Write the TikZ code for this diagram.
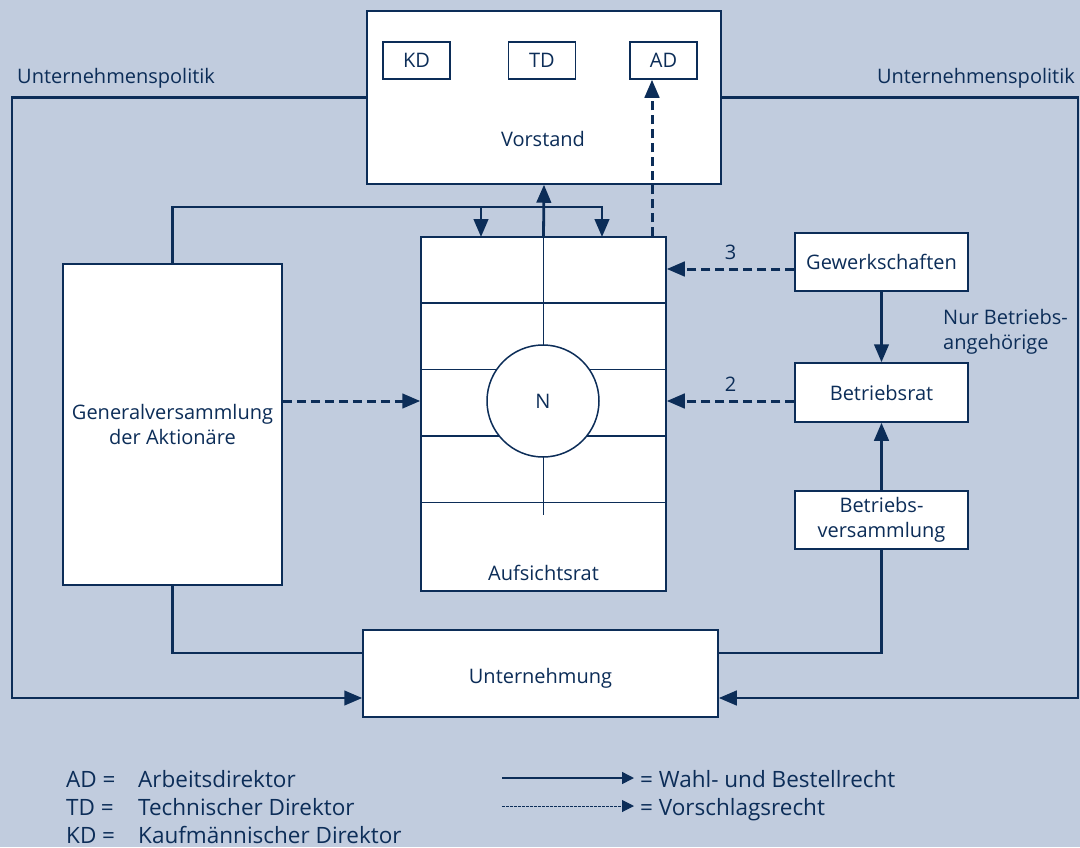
\documentclass[tikz,border=0pt]{standalone}
\usepackage{fontspec}
\setmainfont{Open Sans}
\usetikzlibrary{arrows.meta,calc}
\definecolor{bg}{RGB}{193,204,222}
\definecolor{nv}{RGB}{12,45,88}
\begin{document}
\begin{tikzpicture}[x=1pt,y=-1pt,
  font=\fontsize{20}{25}\selectfont, text=nv,
  box/.style={draw=nv,fill=white,line width=1.5pt,inner sep=0pt,align=center},
  wl/.style={draw=nv,line width=2.8pt},
  dl/.style={draw=nv,line width=3pt,dash pattern=on 9pt off 5pt},
  tip/.style={-{Triangle[length=18pt,width=14.5pt]}},
  stip/.style={-{Triangle[length=12pt,width=12pt]}},
  thinl/.style={draw=nv,line width=1.5pt},
  lab/.style={inner sep=0pt},
  leg/.style={inner sep=0pt,font=\fontsize{22.5}{25}\selectfont}]
\fill[bg] (0,0) rectangle (1080,847);
\useasboundingbox (0,0) rectangle (1080,847);

% boxes
\node[box,minimum width=354pt,minimum height=173pt] (vor) at (544,97.5) {};
\node[box,minimum width=67pt,minimum height=37pt] (kd) at (416.5,60.5) {KD};
\node[box,minimum width=67pt,minimum height=37pt] (td) at (542,60.5) {TD};
\node[box,minimum width=67pt,minimum height=37pt] (ad) at (663.5,60.5) {AD};
\node[lab,anchor=base] (vorl) at (543,146) {Vorstand};

\node[box,minimum width=245pt,minimum height=354pt] (auf) at (543.5,414) {};
\node[box,minimum width=219pt,minimum height=321pt] (gv) at (172.5,424.5) {Generalversammlung\\der Aktionäre};
\node[box,minimum width=355pt,minimum height=87pt] (unt) at (540.5,673.5) {};
\node[lab,anchor=base] (untl) at (540.5,683) {Unternehmung};
\node[box,minimum width=173pt,minimum height=58pt] (gew) at (881.5,262) {Gewerkschaften};
\node[box,minimum width=173pt,minimum height=59pt] (br) at (881.5,392.5) {Betriebsrat};
\node[box,minimum width=173pt,minimum height=58pt] (bv) at (881.5,520) {Betriebs-\\versammlung};

% Aufsichtsrat grid
\coordinate (cc) at (543,401);
\foreach \yy in {303,369.5,436,502.5}
  \draw[thinl] (auf.west |- 0,\yy) -- (auf.east |- 0,\yy);
\draw[thinl] (auf.north) -- ($(auf.north)+(0,279)$);
\node[box,circle,minimum size=112pt] (n) at (cc) {N};
\node[lab,anchor=base] (aufl) at (543.5,580) {Aufsichtsrat};

% labels
\node[lab,anchor=base west] (upl) at (17,83) {Unternehmenspolitik};
\node[lab,anchor=base east] (upr) at (1075,83) {Unternehmenspolitik};
\node[lab,anchor=base west,align=left] (nur) at (943,349) {Nur Betriebs-\\angehörige};

% connectors
\coordinate (cl) at (12,0);
\coordinate (cr) at (1078,0);
\coordinate (top) at (0,207);
\coordinate (a1) at (481,237);
\coordinate (a2) at (602,237);
\coordinate (adx) at ($(ad.south)+(-11.5,0)$);
\coordinate (gwx) at ($(gew.west)+(0,7)$);
\coordinate (brx) at ($(br.west)+(0,8.5)$);
\coordinate (ul) at ($(unt.west)+(0,24.5)$);
\coordinate (ur) at ($(unt.east)+(0,24.5)$);
\coordinate (ul2) at ($(unt.west)+(0,-20.5)$);
\coordinate (ur2) at ($(unt.east)+(0,-20.5)$);
\draw[wl,tip] (vor.west) -- (vor.west -| cl) |- (ul);
\draw[wl,tip] (vor.east) -- (vor.east -| cr) |- (ur);
\draw[wl,tip] (gv.north) |- (a2 |- top) -- (a2);
\draw[wl,tip] (a1 |- top) -- (a1);
\draw[wl,tip] (auf.north) -- (vor.south);
\draw[dl,tip] (adx |- auf.north) -- (adx);
\draw[dl,tip] (gwx) -- node[lab,above=8pt] (l3) {3} (gwx -| auf.east);
\draw[dl,tip] (brx) -- node[lab,above=8pt] (l2) {2} (brx -| auf.east);
\draw[dl,tip] (gv.east |- cc) -- (auf.west |- cc);
\draw[wl,tip] (gew.south) -- (br.north);
\draw[wl,tip] (bv.north) -- (br.south);
\draw[wl] (bv.south) |- (ur2);
\draw[wl] (gv.south) |- (ul2);

% legend
\node[leg,anchor=base west] (lad) at (66,787) {AD =};
\node[leg,anchor=base west] (ltd) at (66,815) {TD =};
\node[leg,anchor=base west] (lkd) at (66,843) {KD =};
\node[leg,anchor=base west] (lad2) at (138,787) {Arbeitsdirektor};
\node[leg,anchor=base west] (ltd2) at (138,815) {Technischer Direktor};
\node[leg,anchor=base west] (lkd2) at (138,843) {Kaufmännischer Direktor};
\node[leg,anchor=base west] (lw) at (640,787) {= Wahl- und Bestellrecht};
\node[leg,anchor=base west] (lv) at (640,815) {= Vorschlagsrecht};
\coordinate (ls1) at (502,778);
\coordinate (ls2) at (502,806);
\draw[draw=nv,line width=1.5pt,stip] (ls1) -- ($(lw.west |- ls1)+(-6,0)$);
\draw[draw=nv,line width=1pt,dash pattern=on 2.5pt off 1.5pt,stip] (ls2) -- ($(lv.west |- ls2)+(-6,0)$);
\end{tikzpicture}
\end{document}
